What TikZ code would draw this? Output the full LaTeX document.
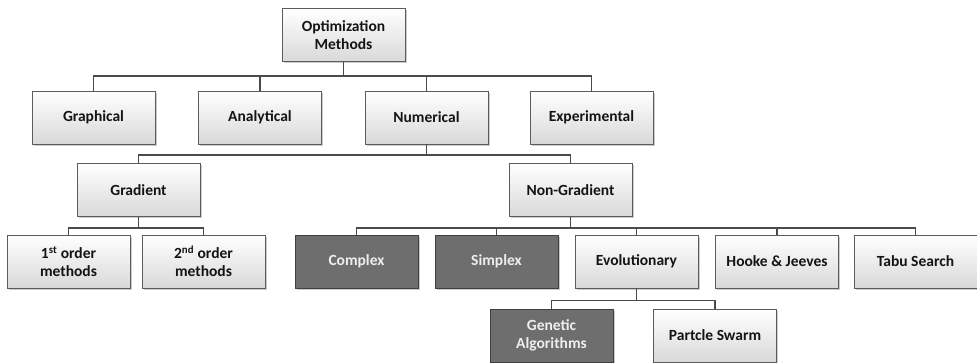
\documentclass[tikz,border=0pt]{standalone}
\usepackage{fontspec}
\setmainfont{Carlito}
\usetikzlibrary{shadows}
\definecolor{edgegray}{HTML}{4A4A4A}
\definecolor{boxborder}{HTML}{5C5C5C}
\definecolor{darkfill}{HTML}{6E6E6E}
\definecolor{darktext}{HTML}{EEEEEE}
\begin{document}
\begin{tikzpicture}[x=1pt,y=1pt,
  box/.style={draw=boxborder, line width=0.9pt, minimum width=123pt, minimum height=53pt,
    inner sep=2pt, align=center, font=\fontsize{15.5}{18}\selectfont\bfseries,
    top color=white, bottom color=black!15, text=black!92,
    drop shadow={shadow xshift=1.6pt, shadow yshift=-1.6pt, fill=black!45, opacity=0.45}},
  darkbox/.style={box, top color=darkfill, bottom color=darkfill, draw=black!75, text=darktext},
  conn/.style={draw=edgegray, line width=1.2pt}]
\useasboundingbox (0,0) rectangle (977,-362);

% root and first level
\node[box] (om) at (343.5,-35) {Optimization\\Methods};
\node[box] (gr) at (93.5,-117.5) {Graphical};
\node[box] (an) at (260,-117.5) {Analytical};
\node[box] (nu) at (426.5,-117.5) {Numerical};
\node[box] (ex) at (591.5,-117.5) {Experimental};

% numerical methods
\node[box] (gd) at (138.5,-190) {Gradient};
\node[box] (ng) at (570.5,-190) {Non-Gradient};

% gradient methods
\node[box] (o1) at (68.5,-261.5) {1\textsuperscript{st} order\\methods};
\node[box] (o2) at (203.5,-261.5) {2\textsuperscript{nd} order\\methods};

% non-gradient methods
\node[darkbox] (cx) at (356.5,-261.5) {Complex};
\node[darkbox] (sx) at (496.5,-261.5) {Simplex};
\node[box] (ev) at (636.5,-261.5) {Evolutionary};
\node[box] (hj) at (777,-261.5) {Hooke \& Jeeves};
\node[box] (tb) at (915.5,-261.5) {Tabu Search};

% evolutionary methods
\node[darkbox] (ga) at (551.5,-335.5) {Genetic\\Algorithms};
\node[box] (ps) at (715,-335.5) {Partcle Swarm};

% connectors
\foreach \c in {gr,an,nu,ex} \draw[conn] (om.south) -- ++(0,-14) -| (\c.north);
\foreach \c in {gd,ng} \draw[conn] (nu.south) -- ++(0,-10.5) -| (\c.north);
\foreach \c in {o1,o2} \draw[conn] (gd.south) -- ++(0,-11) -| (\c.north);
\foreach \c in {cx,sx,ev,hj,tb} \draw[conn] (ng.south) -- ++(0,-11) -| (\c.north);
\foreach \c in {ga,ps} \draw[conn] (ev.south) -- ++(0,-12) -| (\c.north);
\end{tikzpicture}
\end{document}
